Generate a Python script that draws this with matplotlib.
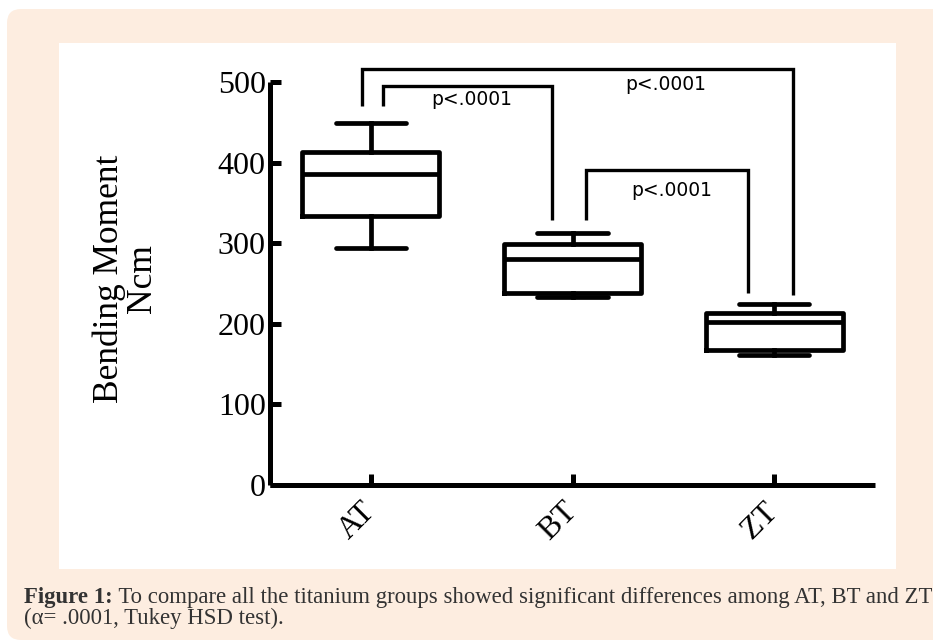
import matplotlib
matplotlib.use('Agg')
import matplotlib.pyplot as plt
from matplotlib.patches import FancyBboxPatch, Rectangle
from matplotlib.transforms import IdentityTransform

# ---------------- data ----------------
groups = ['AT', 'BT', 'ZT']
whislo = [294, 233, 161]
q1 = [334, 238, 168]
med = [386, 280, 202]
q3 = [413, 299, 213]
whishi = [449, 313, 225]
yticks = [0, 100, 200, 300, 400, 500]
p_label = 'p<.0001'
# brackets: x_left, x_right, y_top, y_left_end, y_right_end, label_x, label_y
br_xl = [0.955, 1.06, 2.067]
br_xr = [3.094, 1.898, 2.871]
br_top = [516, 495, 391]
br_yl = [470, 470, 329]
br_yr = [236, 329, 238]
lab_x = [2.46, 1.5, 2.49]
lab_y = [497, 478, 365]
ylabel = 'Bending Moment\nNcm'
cap_bold = 'Figure 1:'
cap_line1 = ' To compare all the titanium groups showed significant differences among AT, BT and ZT'
cap_line2 = '(\u03b1= .0001, Tukey HSD test).'

W, H = 933, 643
fig = plt.figure(figsize=(W / 100, H / 100), dpi=100)
fig.patch.set_facecolor('white')

peach = '#fdede0'
ident = IdentityTransform()
bg = FancyBboxPatch((7, 3), 960, 631, boxstyle='round,pad=0,rounding_size=14',
                    transform=ident, facecolor=peach, edgecolor='none', zorder=-20)
fig.patches.append(bg)
wp = Rectangle((59, 74), 837, 526, transform=ident, facecolor='white',
               edgecolor='none', zorder=-10)
fig.patches.append(wp)

ax = fig.add_axes([270 / W, 158 / H, 605 / W, 423 / H])
ax.set_facecolor('none')
ax.set_xlim(0.5, 3.5)
ax.set_ylim(0, 423 / 0.806)

stats = []
for i, g in enumerate(groups):
    stats.append(dict(label=g, med=med[i], q1=q1[i], q3=q3[i],
                      whislo=whislo[i], whishi=whishi[i], fliers=[]))
lw = 3.4
ax.bxp(stats, positions=[1, 2, 3], widths=0.68, capwidths=0.35, showfliers=False,
       boxprops=dict(color='black', linewidth=lw, solid_joinstyle='round'),
       medianprops=dict(color='black', linewidth=lw, solid_capstyle='butt'),
       whiskerprops=dict(color='black', linewidth=lw),
       capprops=dict(color='black', linewidth=lw, solid_capstyle='round'))

for s in ['top', 'right']:
    ax.spines[s].set_visible(False)
for s in ['left', 'bottom']:
    ax.spines[s].set_linewidth(3.6)
    ax.spines[s].set_capstyle('butt')
ax.spines['left'].set_bounds(0, 500)

serif = 'Liberation Serif'
ax.set_yticks(yticks)
ax.set_yticklabels([str(v) for v in yticks], fontsize=23, family=serif)
ax.set_xticks([1, 2, 3])
ax.set_xticklabels(groups, fontsize=23, family=serif, rotation=45,
                   ha='right', va='center', rotation_mode='anchor')
ax.tick_params(axis='y', direction='in', length=8, width=3.6, pad=3)
ax.tick_params(axis='x', direction='in', length=8, width=3.6, pad=16)

for i in range(len(br_xl)):
    ax.plot([br_xl[i], br_xl[i], br_xr[i], br_xr[i]],
            [br_yl[i], br_top[i], br_top[i], br_yr[i]],
            color='black', lw=2.4, clip_on=False, solid_joinstyle='miter',
            solid_capstyle='butt')
    ax.text(lab_x[i], lab_y[i], p_label, fontsize=13.5, family='DejaVu Sans',
            ha='center', va='center', clip_on=False)

fig.text(126 / W, (H - 279) / H, ylabel, rotation=90, fontsize=25.5,
         family=serif, ha='center', va='center', multialignment='center',
         linespacing=1.0)

# caption
txtcol = '#333333'
fs = 17
t1 = fig.text(24 / W, (H - 603) / H, cap_bold, fontsize=fs, family=serif,
              fontweight='bold', color=txtcol, va='baseline')
t2 = fig.text(0, (H - 603) / H, cap_line1, fontsize=fs, family=serif,
              color=txtcol, va='baseline')
t3 = fig.text(24 / W, (H - 624) / H, cap_line2, fontsize=fs, family=serif,
              color=txtcol, va='baseline')
fig.canvas.draw()
r = fig.canvas.get_renderer()
w1 = t1.get_window_extent(r).width
w2 = t2.get_window_extent(r).width
scale = 906 / (w1 + w2)
nfs = fs * scale
for t in (t1, t2, t3):
    t.set_fontsize(nfs)
fig.canvas.draw()
b1 = t1.get_window_extent(r)
t2.set_x((b1.x1) / W)

fig.savefig('out.png', dpi=100)
